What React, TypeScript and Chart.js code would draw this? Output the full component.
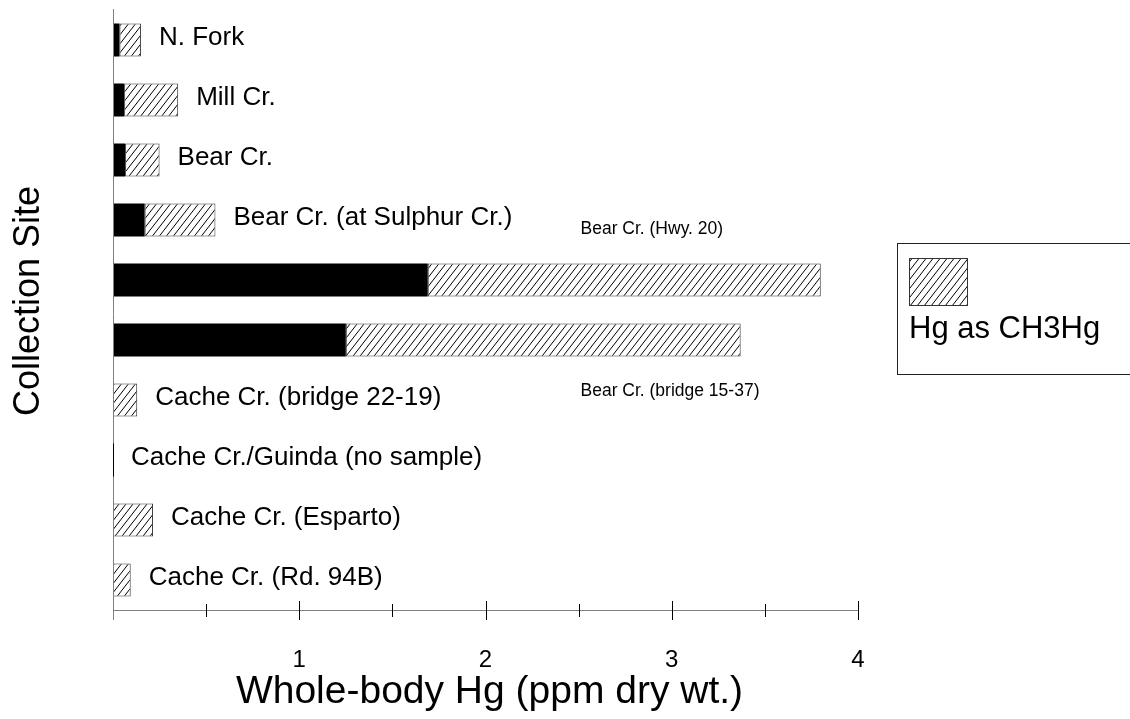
import React, { useEffect, useRef } from 'react';
import { Chart, registerables } from 'chart.js';

Chart.register(...registerables);

// ---- data ----
const categories = [
  'N. Fork',
  'Mill Cr.',
  'Bear Cr.',
  'Bear Cr. (at Sulphur Cr.)',
  'Bear Cr. (Hwy. 20)',
  'Bear Cr. (bridge 15-37)',
  'Cache Cr. (bridge 22-19)',
  'Cache Cr./Guinda (no sample)',
  'Cache Cr. (Esparto)',
  'Cache Cr. (Rd. 94B)',
];
// black segment (remaining Hg)
const inorganicHg = [0.035, 0.06, 0.065, 0.17, 1.69, 1.25, 0, 0, 0, 0];
// hatched segment (Hg as CH3Hg)
const methylHg = [0.115, 0.29, 0.185, 0.38, 2.11, 2.12, 0.13, 0, 0.215, 0.095];
// label next to the bar end (true) or floating above / below the bar (false)
const inlineLabel = [true, true, true, true, false, false, true, true, true, true];
const floatingLabelSide = [0, 0, 0, 0, -1, 1, 0, 0, 0, 0];
const floatingLabelValue = 2.51;
const xMin = 0;
const xMax = 4;
const xStep = 0.5;
const xTickLabels = ['1', '2', '3', '4'];
const xTitle = 'Whole-body Hg (ppm dry wt.)';
const yTitle = 'Collection Site';
const legendLabel = 'Hg as CH3Hg';

const FONT = "'Liberation Sans', Arial, sans-serif";

function makeHatch(): CanvasPattern | string {
  const w = 7;
  const h = 9;
  const c = document.createElement('canvas');
  c.width = w;
  c.height = h;
  const g = c.getContext('2d');
  if (!g) return '#fff';
  g.fillStyle = '#fff';
  g.fillRect(0, 0, w, h);
  g.strokeStyle = '#000';
  g.lineWidth = 1;
  for (const dx of [-w, 0, w]) {
    g.beginPath();
    g.moveTo(-w + dx, 2 * h);
    g.lineTo(2 * w + dx, -h);
    g.stroke();
  }
  return g.createPattern(c, 'repeat') || '#fff';
}

export default function App() {
  const ref = useRef<HTMLCanvasElement | null>(null);

  useEffect(() => {
    const canvas = ref.current;
    if (!canvas) return;
    const hatch = makeHatch();

    const overlay = {
      id: 'overlay',
      afterDatasetsDraw(chart: any) {
        const ctx: CanvasRenderingContext2D = chart.ctx;
        const xs = chart.scales.x;
        const ys = chart.scales.y;
        const area = chart.chartArea;
        const x0 = xs.getPixelForValue(xMin);
        const x0p = Math.round(x0) + 0.5;
        ctx.save();

        // axis lines
        const axisY = Math.round(area.bottom) + 0.5;
        ctx.strokeStyle = '#808080';
        ctx.lineWidth = 1;
        ctx.beginPath();
        ctx.moveTo(x0p, area.top - 1);
        ctx.lineTo(x0p, area.bottom + 10);
        ctx.moveTo(area.left, axisY);
        ctx.lineTo(area.right + 1, axisY);
        ctx.stroke();

        // zero-size bars: thin black line
        const metaM = chart.getDatasetMeta(1);
        categories.forEach((_, i) => {
          if (inorganicHg[i] + methylHg[i] === 0) {
            const el = metaM.data[i];
            ctx.strokeStyle = '#000';
            ctx.lineWidth = 1;
            ctx.beginPath();
            ctx.moveTo(x0p, el.y - el.height / 2);
            ctx.lineTo(x0p, el.y + el.height / 2);
            ctx.stroke();
          }
        });

        // tick marks
        ctx.strokeStyle = '#000';
        for (let v = xMin + xStep; v <= xMax + 1e-9; v += xStep) {
          const px = Math.round(xs.getPixelForValue(v)) + 0.5;
          const major = Math.abs(v - Math.round(v)) < 1e-9;
          ctx.beginPath();
          ctx.moveTo(px, major ? area.bottom - 9 : area.bottom - 6);
          ctx.lineTo(px, major ? area.bottom + 10 : area.bottom + 7);
          ctx.stroke();
        }

        // tick labels
        ctx.fillStyle = '#000';
        ctx.font = `24px ${FONT}`;
        ctx.textAlign = 'center';
        ctx.textBaseline = 'middle';
        xTickLabels.forEach((t) => {
          ctx.fillText(t, xs.getPixelForValue(parseFloat(t)), area.bottom + 50);
        });

        // titles
        ctx.font = `39px ${FONT}`;
        ctx.fillText(xTitle, (area.left + area.right) / 2 + 4, area.bottom + 82);
        ctx.save();
        ctx.translate(29, (area.top + area.bottom) / 2 - 9);
        ctx.rotate(-Math.PI / 2);
        ctx.font = `36px ${FONT}`;
        ctx.fillText(yTitle, 0, 0);
        ctx.restore();

        // bar labels
        ctx.textAlign = 'left';
        categories.forEach((name, i) => {
          const total = inorganicHg[i] + methylHg[i];
          const endPx = xs.getPixelForValue(total);
          const cy = ys.getPixelForValue(i);
          if (inlineLabel[i]) {
            ctx.font = `26px ${FONT}`;
            ctx.fillText(name, endPx + 18, cy - 2);
          } else {
            ctx.font = `17.5px ${FONT}`;
            ctx.fillText(name, xs.getPixelForValue(floatingLabelValue), cy + floatingLabelSide[i] * 51);
          }
        });

        // legend
        ctx.strokeStyle = '#222';
        ctx.strokeRect(897.5, 243.5, 260, 131);
        ctx.fillStyle = hatch as any;
        ctx.fillRect(909.5, 258.5, 58, 47);
        ctx.strokeStyle = '#333';
        ctx.strokeRect(909.5, 258.5, 58, 47);
        ctx.fillStyle = '#000';
        ctx.font = `31px ${FONT}`;
        ctx.textBaseline = 'middle';
        ctx.fillText(legendLabel, 909, 329);

        ctx.restore();
      },
    };

    const chart = new Chart(canvas, {
      type: 'bar',
      data: {
        labels: categories,
        datasets: [
          {
            label: 'Hg',
            data: inorganicHg,
            backgroundColor: '#000',
            borderWidth: 0,
          },
          {
            label: legendLabel,
            data: methylHg,
            backgroundColor: hatch as any,
            borderColor: '#333',
            borderWidth: 1,
            borderSkipped: false,
          },
        ],
      },
      options: {
        indexAxis: 'y',
        responsive: false,
        animation: false,
        devicePixelRatio: 1,
        layout: { padding: { left: 113, top: 10, right: 272, bottom: 109 } },
        datasets: { bar: { categoryPercentage: 1, barPercentage: 0.55 } },
        plugins: { legend: { display: false }, tooltip: { enabled: false } },
        scales: {
          x: { display: false, stacked: true, min: xMin, max: xMax },
          y: { display: false, stacked: true, offset: true },
        },
      },
      plugins: [overlay],
    } as any);

    return () => chart.destroy();
  }, []);

  return (
    <div style={{ position: 'absolute', left: 0, top: 0, width: 1130, height: 719, background: '#fff' }}>
      <canvas ref={ref} width={1130} height={719} />
    </div>
  );
}
